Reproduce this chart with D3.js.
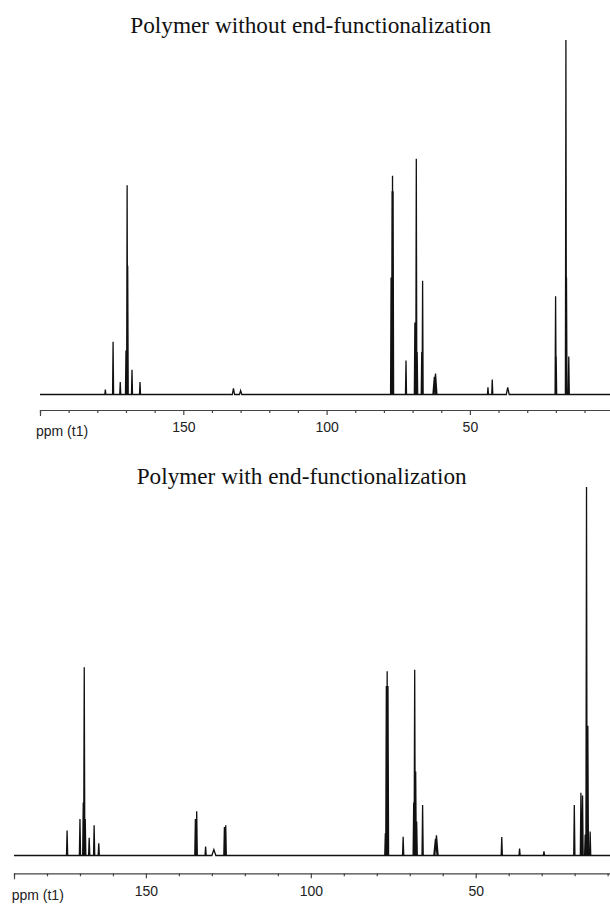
<!DOCTYPE html>
<html>
<head>
<meta charset="utf-8">
<script src="https://cdn.jsdelivr.net/npm/d3@7"></script>
<style>
  body { margin: 0; background: #fff; }
  svg { display: block; }
</style>
</head>
<body>
<svg id="chart" width="610" height="906"></svg>
<script>
const titles = ['Polymer without end-functionalization', 'Polymer with end-functionalization'];
const axisLabel = 'ppm (t1)';
const tickLabels = [150, 100, 50];

// [ppm, height (% of tallest peak), half width in ppm if broad]
const peaksWithout = [
  [177.2, 1.4], [174.5, 14.9], [172.0, 3.5], [170.0, 12.4], [169.6, 59.0],
  [169.4, 36.3], [167.9, 7.0], [165.1, 3.5], [132.5, 1.7, 0.4], [130.0, 1.1, 0.4],
  [77.5, 33.0], [77.15, 57.3], [77.0, 61.7], [76.8, 57.3], [72.3, 9.6],
  [69.2, 20.3], [68.7, 66.5], [68.4, 12.0], [66.8, 12.0], [66.5, 32.1],
  [62.4, 5.0, 0.5], [62.0, 5.9, 0.5], [43.7, 2.0], [42.2, 4.2], [36.8, 2.0, 0.5],
  [20.1, 27.7], [19.9, 10.7], [16.5, 100], [16.3, 33.0], [15.5, 10.7]
];

const peaksWith = [
  [173.9, 6.8], [170.0, 9.9], [169.0, 14.4], [168.7, 51.1], [168.4, 9.9],
  [167.2, 4.8], [165.7, 8.2], [164.3, 3.3], [135.0, 9.9], [134.6, 12.0],
  [131.9, 2.4], [129.4, 1.6, 0.6], [126.2, 7.7], [125.8, 8.2],
  [77.4, 6.0], [77.1, 46.0], [76.85, 50.0], [76.6, 46.0], [72.0, 5.1],
  [68.8, 14.4], [68.5, 50.4], [68.2, 22.8], [67.9, 9.2], [66.1, 13.7],
  [62.2, 4.5, 0.5], [61.9, 5.5, 0.5], [42.1, 5.0], [36.7, 1.9], [29.3, 1.1],
  [20.1, 13.7], [18.1, 17.0], [17.6, 16.3], [16.8, 5.7], [16.4, 100],
  [16.0, 35.2], [15.3, 6.5]
];

const svg = d3.select('#chart');

function spectrumPoints(peaks, domain) {
  const sorted = peaks.slice().sort((a, b) => b[0] - a[0]);
  const points = [[domain[0], 0]];
  sorted.forEach((p) => {
    const w = p[2] || 0.18;
    points.push([p[0] + w, 0], [p[0], p[1]], [p[0] - w, 0]);
  });
  points.push([domain[1], 0]);
  return points;
}

function drawPanel(peaks, title, layout) {
  const g = svg.append('g');
  const x = d3.scaleLinear().domain(layout.domain).range(layout.xRange);
  const y = d3.scaleLinear().domain([0, 100]).range([layout.baseY, layout.topY]);

  g.append('text')
    .attr('x', layout.titleX)
    .attr('y', layout.titleY)
    .attr('text-anchor', 'middle')
    .attr('textLength', layout.titleW)
    .attr('lengthAdjust', 'spacingAndGlyphs')
    .style('font-family', '"Liberation Serif", "Times New Roman", serif')
    .style('font-size', '23px')
    .style('fill', '#111')
    .text(title);

  const line = d3.line()
    .x(d => x(d[0]))
    .y(d => y(d[1]));

  g.append('path')
    .datum(spectrumPoints(peaks, layout.domain))
    .attr('d', line)
    .attr('fill', 'none')
    .attr('stroke', '#111')
    .attr('stroke-width', 1.3)
    .attr('stroke-linejoin', 'miter');

  const ticks = d3.range(10, layout.domain[0] + 1, 10);
  const xAxis = d3.axisBottom(x)
    .tickValues(ticks)
    .tickSizeOuter(0)
    .tickSize(3)
    .tickFormat(d => tickLabels.includes(d) ? d : '');

  const axisG = g.append('g')
    .attr('transform', `translate(0,${layout.axisY})`)
    .call(xAxis);

  axisG.select('.domain').attr('stroke', '#444').attr('stroke-width', 1.2);
  axisG.selectAll('.tick line')
    .attr('stroke', '#444')
    .attr('stroke-width', 1.2)
    .attr('y2', d => d === layout.domain[0] ? 6 : (tickLabels.includes(d) ? 5 : 3));
  axisG.selectAll('.tick text')
    .attr('y', layout.labelDy)
    .attr('dy', 0)
    .style('font-family', '"Liberation Sans", Arial, sans-serif')
    .style('font-size', '14px')
    .style('fill', '#222');

  g.append('text')
    .attr('x', layout.unitX)
    .attr('y', layout.unitY)
    .style('font-family', '"Liberation Sans", Arial, sans-serif')
    .style('font-size', '14px')
    .style('fill', '#222')
    .text(axisLabel);
}

drawPanel(peaksWithout, titles[0], {
  domain: [200, 0], xRange: [40, 613.2],
  baseY: 394.5, topY: 40, axisY: 410, labelDy: 21.7,
  titleX: 310.7, titleY: 32.5, titleW: 361,
  unitX: 36, unitY: 435.7
});

drawPanel(peaksWith, titles[1], {
  domain: [190, 0], xRange: [14, 640.6],
  baseY: 855.5, topY: 487, axisY: 873.3, labelDy: 23.2,
  titleX: 301.7, titleY: 484.3, titleW: 330,
  unitX: 11.7, unitY: 900
});
</script>
</body>
</html>
